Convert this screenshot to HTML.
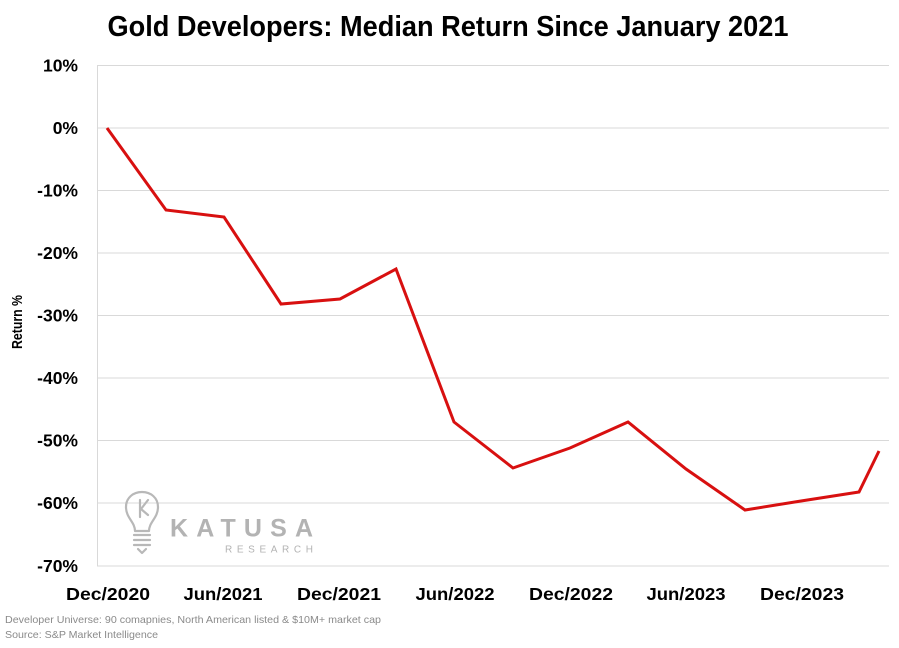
<!DOCTYPE html>
<html><head><meta charset="utf-8"><style>
html,body{margin:0;padding:0;background:#fff;}
svg{display:block;}
</style></head><body>
<svg width="899" height="648" viewBox="0 0 899 648" xmlns="http://www.w3.org/2000/svg">
<rect width="899" height="648" fill="#fff"/>
<text x="448" y="36" text-anchor="middle" font-family="Liberation Sans, sans-serif" font-weight="bold" font-size="29" textLength="681" lengthAdjust="spacingAndGlyphs" fill="#000">Gold Developers: Median Return Since January 2021</text>
<g stroke="#d9d9d9" stroke-width="1">
<line x1="97" y1="65.5" x2="889" y2="65.5"/>
<line x1="97" y1="128" x2="889" y2="128"/>
<line x1="97" y1="190.5" x2="889" y2="190.5"/>
<line x1="97" y1="253" x2="889" y2="253"/>
<line x1="97" y1="315.5" x2="889" y2="315.5"/>
<line x1="97" y1="378" x2="889" y2="378"/>
<line x1="97" y1="440.5" x2="889" y2="440.5"/>
<line x1="97" y1="503" x2="889" y2="503"/>
<line x1="97" y1="566" x2="889" y2="566"/>
<line x1="97.5" y1="65" x2="97.5" y2="566"/>
</g>
<g font-family="Liberation Sans, sans-serif" font-weight="bold" font-size="17.5" fill="#000" text-anchor="end">
<text x="78" y="71.5">10%</text>
<text x="78" y="134">0%</text>
<text x="78" y="196.5">-10%</text>
<text x="78" y="259">-20%</text>
<text x="78" y="321.5">-30%</text>
<text x="78" y="384">-40%</text>
<text x="78" y="446.5">-50%</text>
<text x="78" y="509">-60%</text>
<text x="78" y="572">-70%</text>
</g>
<g font-family="Liberation Sans, sans-serif" font-weight="bold" font-size="17.5" fill="#000" text-anchor="middle">
<text x="108" y="600" textLength="84" lengthAdjust="spacingAndGlyphs">Dec/2020</text>
<text x="223" y="600" textLength="79" lengthAdjust="spacingAndGlyphs">Jun/2021</text>
<text x="339" y="600" textLength="84" lengthAdjust="spacingAndGlyphs">Dec/2021</text>
<text x="455" y="600" textLength="79" lengthAdjust="spacingAndGlyphs">Jun/2022</text>
<text x="571" y="600" textLength="84" lengthAdjust="spacingAndGlyphs">Dec/2022</text>
<text x="686" y="600" textLength="79" lengthAdjust="spacingAndGlyphs">Jun/2023</text>
<text x="802" y="600" textLength="84" lengthAdjust="spacingAndGlyphs">Dec/2023</text>
</g>
<text transform="translate(22,322) rotate(-90)" text-anchor="middle" font-family="Liberation Sans, sans-serif" font-weight="bold" font-size="15" textLength="54" lengthAdjust="spacingAndGlyphs" fill="#000">Return %</text>
<!-- logo -->
<g fill="none" stroke="#b8b8b8" stroke-width="2.2" stroke-linecap="round" stroke-linejoin="round">
<path d="M135 531 C135 522 126 518 126 507 C126 498 133 492 142 492 C151 492 158 498 158 507 C158 518 149 522 149 531 Z"/>
<line x1="134" y1="535" x2="150" y2="535"/>
<line x1="134" y1="540" x2="150" y2="540"/>
<line x1="134" y1="545" x2="150" y2="545"/>
<path d="M138 549 L142 553 L146 549"/>
<line x1="140" y1="500" x2="140" y2="517"/>
<path d="M148 500 L141 509 L148 515"/>
</g>
<g fill="#b3b3b3" font-family="Liberation Sans, sans-serif" font-weight="bold">
<text x="170" y="536.5" font-size="25" textLength="143" lengthAdjust="spacing">KATUSA</text>
<text x="225" y="552.5" font-size="10" font-weight="normal" textLength="88" lengthAdjust="spacing">RESEARCH</text>
</g>
<polyline fill="none" stroke="#d81010" stroke-width="3" stroke-linejoin="miter" points="107,128 166,210 224,217 281,304 340,299 396,269 454,422 513,468 570,448 628,422 686,469 745,510 801,501 859,492 879,451"/>
<g font-family="Liberation Sans, sans-serif" font-size="10.5" fill="#8a8a8a">
<text x="5" y="623" textLength="376" lengthAdjust="spacingAndGlyphs">Developer Universe: 90 comapnies, North American listed &amp; $10M+ market cap</text>
<text x="5" y="638" textLength="153" lengthAdjust="spacingAndGlyphs">Source: S&amp;P Market Intelligence</text>
</g>
</svg>
</body></html>
